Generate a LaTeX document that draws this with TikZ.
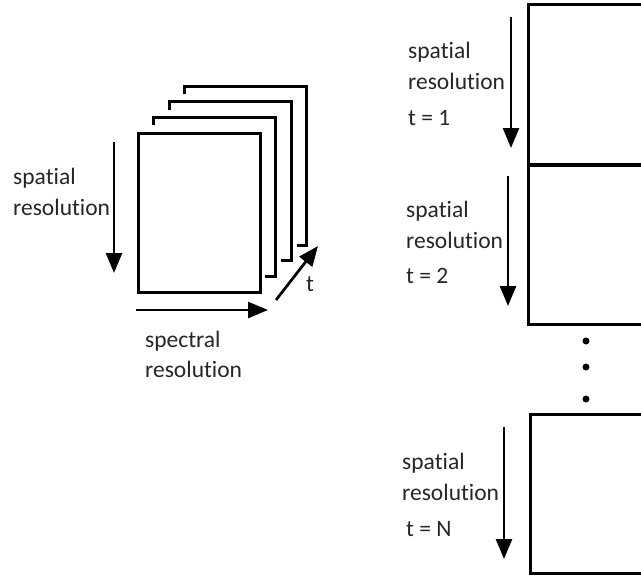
\documentclass[tikz,border=0pt]{standalone}
\usepackage{fontspec}
\setmainfont[Ligatures={NoCommon}]{Carlito}
\usetikzlibrary{arrows.meta,positioning}
\tikzset{
  frame/.style={draw,line width=3pt,inner sep=0pt,anchor=north west},
  res/.style={line width=2.7pt,-{Triangle[width=16pt,length=20pt]}},
  lbl/.style={anchor=west,inner sep=0pt,text=black!85,
              font=\fontsize{23.5}{28}\selectfont},
  dot/.style={circle,fill=black,inner sep=0pt,minimum size=7pt},
}
\begin{document}
\begin{tikzpicture}[line cap=butt,line join=miter,x=1pt,y=-1pt]
\useasboundingbox (0,0) rectangle (641,576);
\clip (0,0) rectangle (641,576);
% stack of frames on the left
\node[frame,minimum width=122pt,minimum height=159pt] (f0) at (137,132) {};
\foreach \dx/\dy/\px/\py in {16/15/0/0, 32/31/16/15, 47/46/32/31}
  \draw[line width=3pt] (137+\dx,132-\py-7) -- (137+\dx,132-\dy)
     -- (259+\dx,132-\dy) -- (259+\dx,291-\dy) -- (259+\px+6,291-\dy);
\coordinate (sa) at (114,142);
\coordinate (sb) at (114,273);
\draw[res] (sa) -- (sb);
\node[lbl] (s0) at (13,178) {spatial};
\node[lbl] (r0) at (13,207) {resolution};
\coordinate (pa) at (136,310);
\coordinate (pb) at (268,310);
\draw[res] (pa) -- (pb);
\node[lbl] (sp) at (145,341) {spectral};
\node[lbl] (r1) at (145,369) {resolution};
\coordinate (ta) at (276,300);
\coordinate (tb) at (318,246);
\draw[res] (ta) -- (tb);
\node[lbl] (t0) at (306,284) {t};
% frames over time on the right
\node[frame,minimum width=140pt,minimum height=160pt] (b1) at (527,3) {};
\node[frame,minimum width=140pt,minimum height=159pt] (b2) at (527,164) {};
\node[frame,minimum width=140pt,minimum height=159pt] (bn) at (529,413) {};
\draw[res] (511,17) -- (511,148);
\node[lbl] (s1) at (408,52) {spatial};
\node[lbl] (r2) at (408,81) {resolution};
\node[lbl] (t1) at (408,118) {t = 1};
\draw[res] (508,176) -- (508,306);
\node[lbl] (s2) at (406,211) {spatial};
\node[lbl] (r3) at (406,240) {resolution};
\node[lbl] (t2) at (406,276) {t = 2};
\draw[res] (504,427) -- (504,559);
\node[lbl] (s3) at (402,463) {spatial};
\node[lbl] (r4) at (402,492) {resolution};
\node[lbl] (tn) at (406,529) {t = N};
\node[dot] (d1) at (586,341) {};
\node[dot] (d2) at (586,367) {};
\node[dot] (d3) at (586,399) {};
\end{tikzpicture}
\end{document}
